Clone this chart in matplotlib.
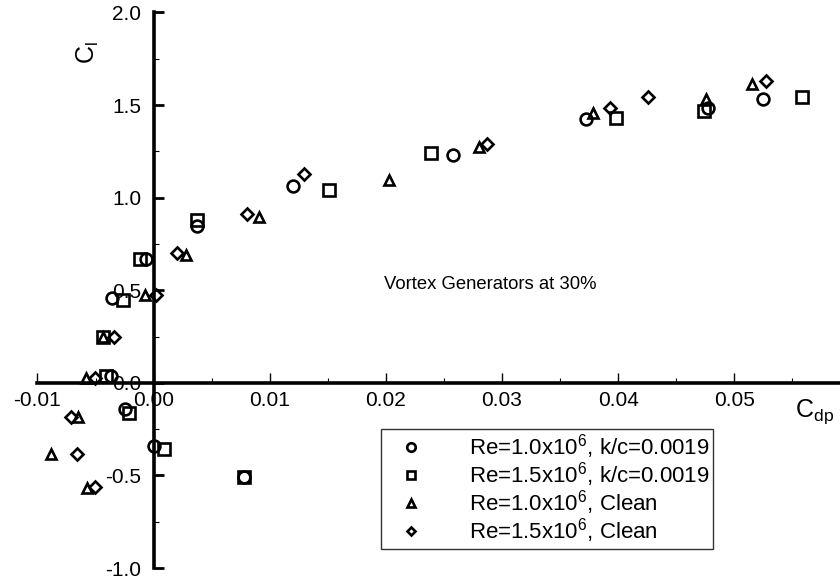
import matplotlib
matplotlib.use("Agg")
import matplotlib.pyplot as plt
from matplotlib.ticker import MultipleLocator, FormatStrFormatter

plt.rcParams['font.family'] = ['Liberation Sans', 'DejaVu Sans']
plt.rcParams['mathtext.default'] = 'regular'
plt.rcParams['axes.unicode_minus'] = False

# Re=1.0x10^6, k/c=0.0019
cdp_a = [0.00004, -0.00245, -0.0037, -0.0036, -0.00067, 0.00377, 0.01198,
         0.0258, 0.0372, 0.0477, 0.0525, 0.0078]
cl_a = [-0.34, -0.14, 0.038, 0.458, 0.669, 0.849, 1.061,
        1.229, 1.422, 1.485, 1.534, -0.506]

# Re=1.5x10^6, k/c=0.0019
cdp_b = [0.00093, -0.00208, -0.0041, -0.00432, -0.00265, -0.00116, 0.00372,
         0.01513, 0.02388, 0.0398, 0.04737, 0.0558, 0.0078]
cl_b = [-0.357, -0.164, 0.038, 0.247, 0.449, 0.669, 0.877,
        1.039, 1.242, 1.431, 1.470, 1.542, -0.506]

# Re=1.0x10^6, Clean
cdp_c = [-0.00882, -0.00647, -0.00575, -0.00581, -0.00432, -0.00073, 0.0028,
         0.0091, 0.0203, 0.028, 0.03785, 0.0476, 0.0515]
cl_c = [-0.384, -0.182, -0.569, 0.025, 0.247, 0.476, 0.692,
        0.894, 1.094, 1.274, 1.458, 1.534, 1.616]

# Re=1.5x10^6, Clean
cdp_d = [-0.00656, -0.00713, -0.00503, -0.00503, -0.00337, 0.00019, 0.002,
         0.00802, 0.01295, 0.02873, 0.03929, 0.04258, 0.05269]
cl_d = [-0.384, -0.182, -0.564, 0.025, 0.25, 0.472, 0.701,
        0.912, 1.13, 1.292, 1.485, 1.542, 1.632]

labels = ['Re=1.0x10$^6$, k/c=0.0019', 'Re=1.5x10$^6$, k/c=0.0019',
          'Re=1.0x10$^6$, Clean', 'Re=1.5x10$^6$, Clean']

fig = plt.figure(figsize=(8.4, 5.83), dpi=100)
ax = fig.add_axes([0.0446, 0.0257, 0.9554, 0.9530])

kw = dict(ls='none', mfc='none', mec='black', mew=1.9, color='black')
ax.plot(cdp_a, cl_a, marker='o', ms=8.5, label=labels[0], **kw)
ax.plot(cdp_b, cl_b, marker='s', ms=8.2, label=labels[1], **kw)
ax.plot(cdp_c, cl_c, marker='^', ms=7.8, label=labels[2], **kw)
ax.plot(cdp_d, cl_d, marker='D', ms=6.0, label=labels[3], **kw)

ax.set_xlim(-0.01, 0.0591)
ax.set_ylim(-1.0, 2.0)

for s in ['top', 'right']:
    ax.spines[s].set_visible(False)
ax.spines['left'].set_position(('data', 0))
ax.spines['bottom'].set_position(('data', 0))
ax.spines['left'].set_linewidth(2.6)
ax.spines['bottom'].set_linewidth(2.6)

ax.xaxis.set_major_locator(MultipleLocator(0.01))
ax.xaxis.set_minor_locator(MultipleLocator(0.005))
ax.yaxis.set_major_locator(MultipleLocator(0.5))
ax.yaxis.set_minor_locator(MultipleLocator(0.25))
ax.xaxis.set_major_formatter(FormatStrFormatter('%.2f'))
ax.yaxis.set_major_formatter(FormatStrFormatter('%.1f'))

ax.tick_params(axis='x', which='major', direction='in', length=7, width=1.0,
               labelsize=15, pad=6)
ax.tick_params(axis='x', which='minor', direction='in', length=3.5, width=0.8)
ax.tick_params(axis='y', which='major', direction='in', length=7, width=2.0,
               labelsize=15, pad=9)
ax.tick_params(axis='y', which='minor', direction='in', length=3.5, width=0.8)

ax.text(0.0625, 0.927, 'C$_l$', transform=ax.transAxes, rotation=90,
        fontsize=18, ha='center', va='center')
ax.text(0.944, 0.281, 'C$_{dp}$', transform=ax.transAxes,
        fontsize=18, ha='left', va='center')
ax.text(0.029, 0.53, 'Vortex Generators at 30%', fontsize=13.3,
        ha='center', va='center')

leg = ax.legend(loc='upper left', bbox_to_anchor=(381 / 840, 1 - 429 / 583),
                bbox_transform=fig.transFigure, fontsize=16, frameon=True,
                fancybox=False, borderaxespad=0, borderpad=0.15,
                handlelength=2.4, handletextpad=1.4, labelspacing=-0.04,
                markerscale=0.72)
leg.get_frame().set_edgecolor('black')
leg.get_frame().set_linewidth(1.0)

fig.savefig('out.png', dpi=100)
